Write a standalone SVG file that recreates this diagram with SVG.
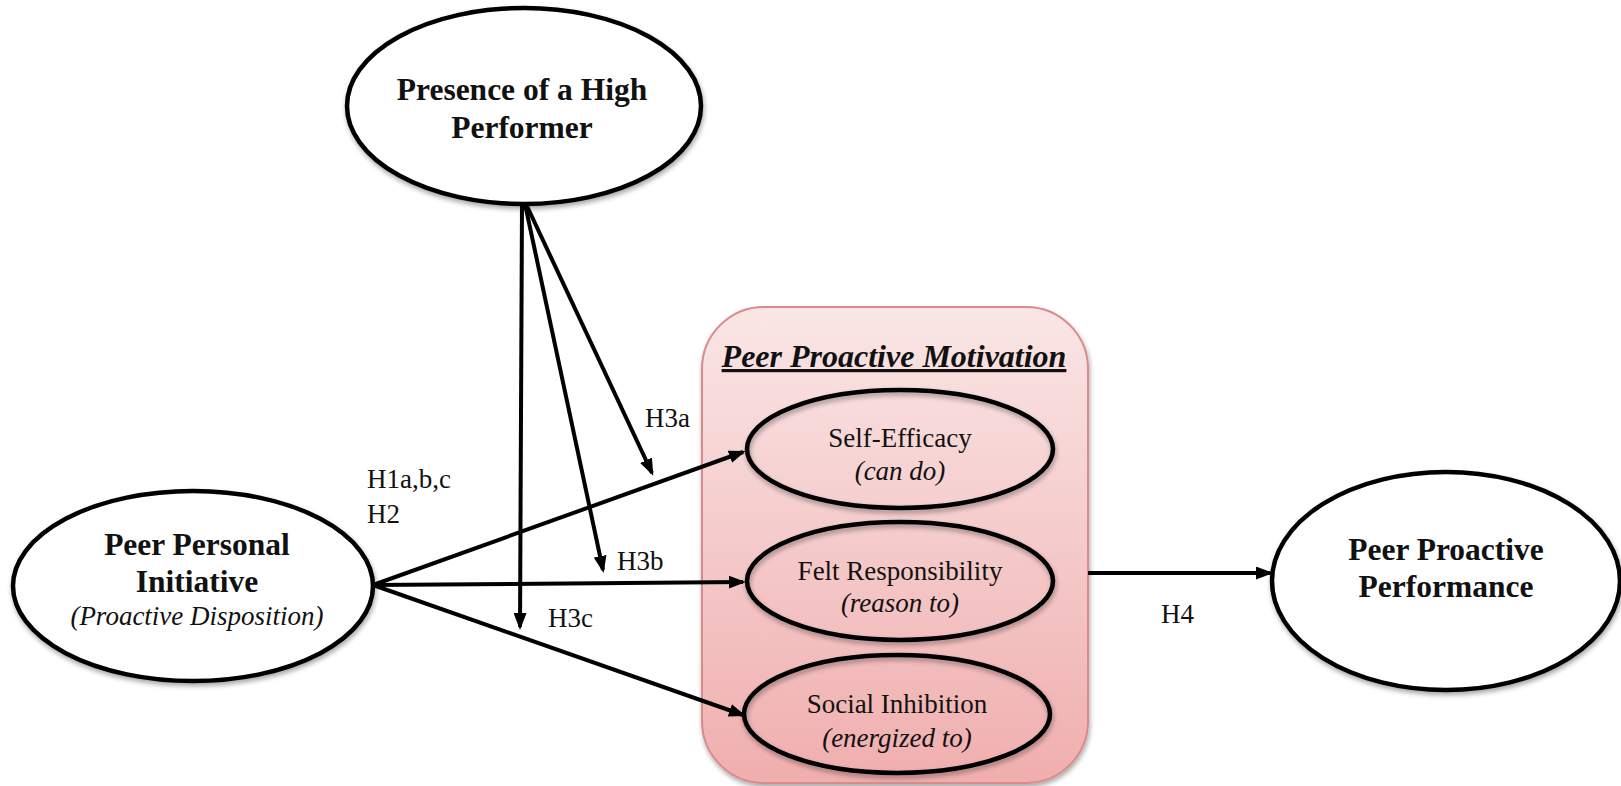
<svg xmlns="http://www.w3.org/2000/svg" width="1621" height="786" viewBox="0 0 1621 786">
<defs>
<linearGradient id="pink" x1="0" y1="0" x2="0" y2="1">
<stop offset="0" stop-color="#fae6e6"/>
<stop offset="1" stop-color="#f0aeae"/>
</linearGradient>
<filter id="sh" x="-10%" y="-10%" width="120%" height="125%">
<feGaussianBlur in="SourceAlpha" stdDeviation="2.5"/>
<feOffset dx="1" dy="3" result="b"/>
<feComponentTransfer><feFuncA type="linear" slope="0.35"/></feComponentTransfer>
<feMerge><feMergeNode/><feMergeNode in="SourceGraphic"/></feMerge>
</filter>
<marker id="arr" markerUnits="userSpaceOnUse" markerWidth="17" markerHeight="13" refX="14" refY="6.5" orient="auto">
<path d="M0,0 L17,6.5 L0,13 z" fill="#000"/>
</marker>
</defs>
<style>
.node{fill:#fff;stroke:#000;stroke-width:4.5}
.inner{fill:none;stroke:#000;stroke-width:4.5}
.b{font-family:"Liberation Serif",serif;font-weight:bold;font-size:31.5px;fill:#111;text-anchor:middle}
.r{font-family:"Liberation Serif",serif;font-size:27px;fill:#111;text-anchor:middle}
.i{font-family:"Liberation Serif",serif;font-style:italic;font-size:27px;fill:#111;text-anchor:middle}
.lbl{font-family:"Liberation Serif",serif;font-size:27px;fill:#111}
.c{fill:none;stroke:#000;stroke-width:4;marker-end:url(#arr)}
</style>
<rect width="1621" height="786" fill="#fff"/>

<g id="motivation-box">
<rect x="702" y="307" width="386" height="476" rx="62" ry="62" fill="url(#pink)" stroke="#d98a8a" stroke-width="2" filter="url(#sh)"/>
<text x="894" y="367" class="b" style="font-style:italic;font-size:32px;text-decoration:underline">Peer Proactive Motivation</text>
</g>

<g id="presence-high-performer">
<ellipse cx="524" cy="106" rx="177" ry="98" class="node" filter="url(#sh)"/>
<text x="522" y="100" class="b">Presence of a High</text>
<text x="522" y="138" class="b">Performer</text>
</g>

<g id="peer-personal-initiative">
<ellipse cx="193" cy="586" rx="180" ry="95" class="node" filter="url(#sh)"/>
<text x="197" y="555" class="b">Peer Personal</text>
<text x="197" y="592" class="b">Initiative</text>
<text x="197" y="625" class="i">(Proactive Disposition)</text>
</g>

<g id="self-efficacy">
<ellipse cx="900" cy="449" rx="153" ry="59" class="inner" filter="url(#sh)"/>
<text x="900" y="447" class="r">Self-Efficacy</text>
<text x="900" y="480" class="i">(can do)</text>
</g>

<g id="felt-responsibility">
<ellipse cx="900" cy="581" rx="153" ry="59" class="inner" filter="url(#sh)"/>
<text x="900" y="580" class="r">Felt Responsibility</text>
<text x="900" y="612" class="i">(reason to)</text>
</g>

<g id="social-inhibition">
<ellipse cx="897" cy="714" rx="153" ry="59" class="inner" filter="url(#sh)"/>
<text x="897" y="713" class="r">Social Inhibition</text>
<text x="897" y="747" class="i">(energized to)</text>
</g>

<g id="peer-proactive-performance">
<ellipse cx="1446" cy="581" rx="174" ry="109" class="node" filter="url(#sh)"/>
<text x="1446" y="560" class="b">Peer Proactive</text>
<text x="1446" y="597" class="b">Performance</text>
</g>

<g id="connectors">
<line x1="373" y1="585" x2="743" y2="452" class="c"/>
<line x1="373" y1="585" x2="743" y2="582" class="c"/>
<line x1="373" y1="585" x2="743" y2="715" class="c"/>
<line x1="522" y1="204" x2="520" y2="627" class="c"/>
<line x1="525" y1="204" x2="603" y2="570" class="c"/>
<line x1="526" y1="204" x2="652" y2="473" class="c"/>
<line x1="1088" y1="573" x2="1270" y2="573" class="c"/>
</g>

<g id="labels">
<text x="367" y="488" class="lbl">H1a,b,c</text>
<text x="367" y="523" class="lbl">H2</text>
<text x="645" y="427" class="lbl">H3a</text>
<text x="617" y="570" class="lbl">H3b</text>
<text x="548" y="627" class="lbl">H3c</text>
<text x="1161" y="623" class="lbl">H4</text>
</g>
</svg>
